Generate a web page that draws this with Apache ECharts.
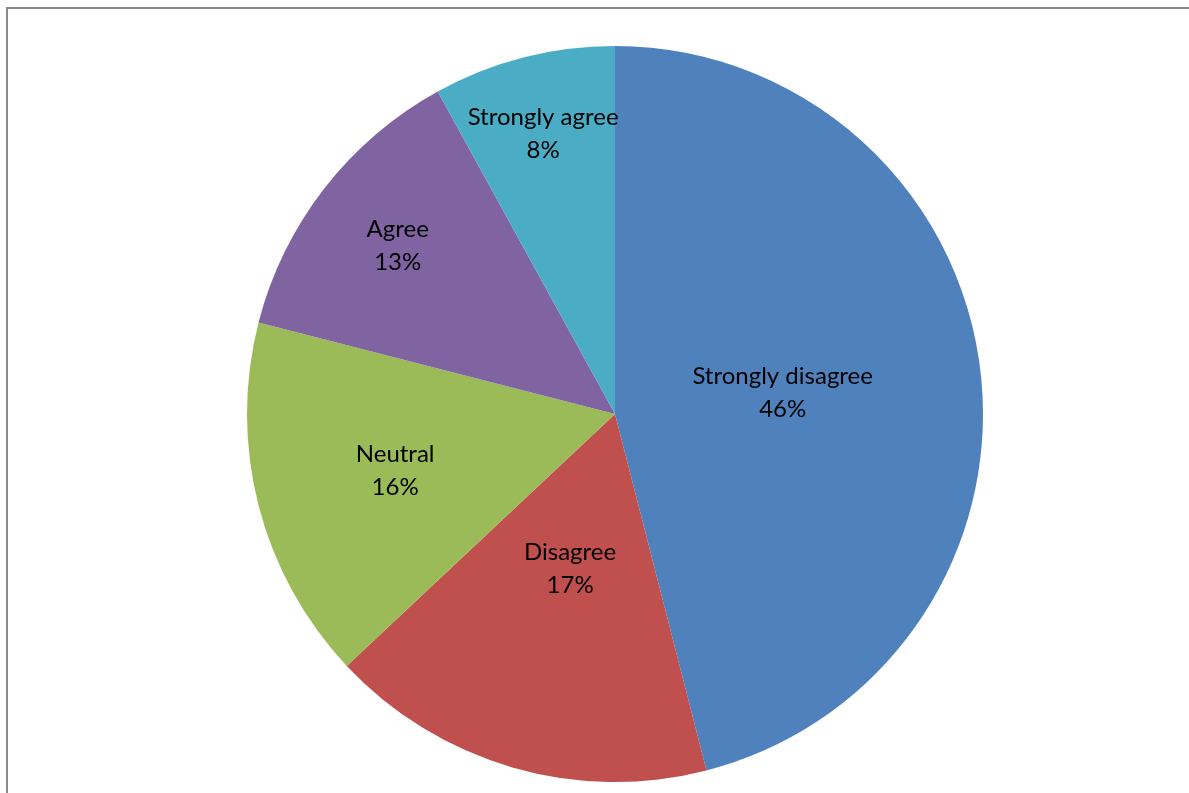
<!DOCTYPE html>
<html><head><meta charset="utf-8">
<script src="https://cdn.jsdelivr.net/npm/echarts@6/dist/echarts.min.js"></script>
<style>
html,body{margin:0;padding:0;background:#fff;overflow:hidden;width:1189px;height:793px;}
#c{position:absolute;left:0;top:0;width:1189px;height:793px;}
</style></head>
<body>
<div id="c"></div>
<script>
const categories = ['Strongly disagree', 'Disagree', 'Neutral', 'Agree', 'Strongly agree'];
const values = [46, 17, 16, 13, 8];
const colors = ['#4F81BD', '#C0504D', '#9BBB59', '#8064A2', '#4BACC6'];
// label distance from center (px), per slice, to mimic Excel best-fit placement
const labelDist = [166, 158, 224, 272, 286];

const center = [615, 414];
const data = categories.map((n, i) => ({ name: n, value: values[i], itemStyle: { color: colors[i] } }));

const series = [{
  type: 'pie', center: center, radius: [0, 368], startAngle: 90, clockwise: true,
  silent: true, animation: false,
  itemStyle: { borderWidth: 0 },
  label: { show: false }, labelLine: { show: false },
  data: data
}];
categories.forEach((n, i) => {
  series.push({
    type: 'pie', center: center, radius: [0, labelDist[i] * 2], startAngle: 90, clockwise: true,
    silent: true, animation: false, z: 5,
    itemStyle: { color: 'transparent', borderWidth: 0 },
    labelLine: { show: false },
    data: categories.map((m, j) => ({
      name: m, value: values[j],
      label: j === i ? {
        show: true, position: 'inside', formatter: '{b}\n{d}%',
        color: '#000', fontFamily: 'Lato', fontSize: 24, lineHeight: 33
      } : { show: false }
    }))
  });
});

const chart = echarts.init(document.getElementById('c'), null, { renderer: 'canvas' });
chart.setOption({
  animation: false,
  graphic: [{
    type: 'polyline', silent: true,
    shape: { points: [[7, 800], [7, 8], [1200, 8]] },
    style: { stroke: '#8a8a8a', lineWidth: 2, fill: null }
  }],
  series: series
});
</script>
</body></html>
